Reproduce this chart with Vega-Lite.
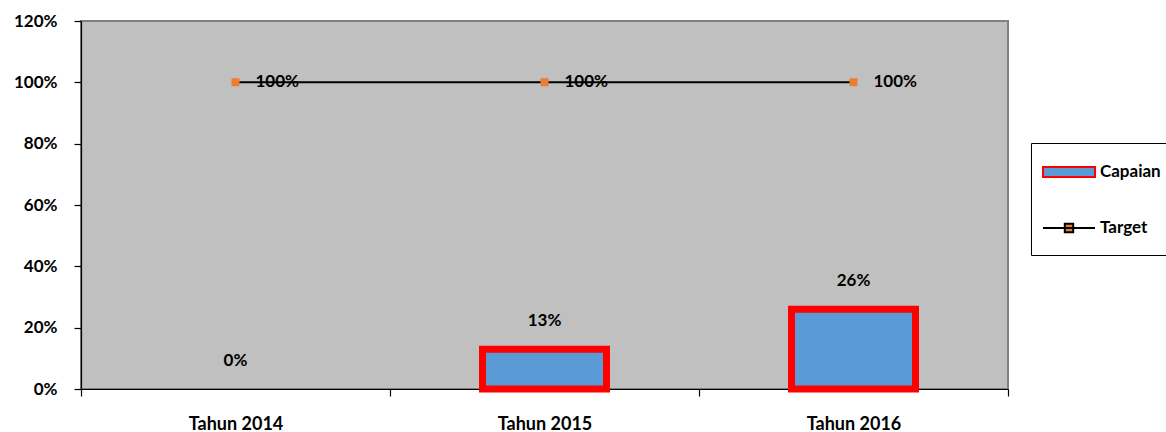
{
  "$schema": "https://vega.github.io/schema/vega-lite/v6.json",
  "width": 927,
  "height": 368,
  "autosize": {"type": "none"},
  "padding": {"left": 81, "top": 21, "right": 158, "bottom": 43},
  "background": "white",
  "config": {
    "view": {"fill": "#C0C0C0", "stroke": "#808080", "strokeWidth": 2},
    "font": "Lato",
    "axis": {"labelFont": "Lato", "labelFontWeight": "bold", "labelColor": "black", "domainColor": "black", "tickColor": "black", "domainWidth": 1.2, "tickWidth": 1.2, "tickSize": 7, "grid": false, "title": null}
  },
  "datasets": {
    "capaian": [
      {"tahun": "Tahun 2014", "value": 0, "series": "Capaian"},
      {"tahun": "Tahun 2015", "value": 0.13, "series": "Capaian"},
      {"tahun": "Tahun 2016", "value": 0.26, "series": "Capaian"}
    ],
    "target": [
      {"tahun": "Tahun 2014", "value": 1.0, "series": "Target"},
      {"tahun": "Tahun 2015", "value": 1.0, "series": "Target"},
      {"tahun": "Tahun 2016", "value": 1.0, "series": "Target"}
    ]
  },
  "encoding": {
    "x": {"field": "tahun", "type": "nominal", "sort": ["Tahun 2014", "Tahun 2015", "Tahun 2016"],
      "scale": {"domain": ["Tahun 2014", "Tahun 2015", "Tahun 2016"], "paddingInner": 0, "paddingOuter": 0},
      "axis": {"labelAngle": 0, "tickBand": "extent", "labelFontSize": 18, "labelPadding": 19, "labelBaseline": "top"}},
    "y": {"field": "value", "type": "quantitative",
      "scale": {"domain": [0, 1.2], "nice": false, "zero": true},
      "axis": {"values": [0, 0.2, 0.4, 0.6, 0.8, 1.0, 1.2], "format": ".0%", "labelFontSize": 17, "labelPadding": 17}}
  },
  "layer": [
    {
      "data": {"name": "capaian"},
      "transform": [{"filter": "datum.value > 0"}],
      "mark": {"type": "bar", "size": 124, "strokeWidth": 7},
      "encoding": {
        "fill": {"field": "series", "type": "nominal",
          "scale": {"domain": ["Capaian", "Target"], "range": ["#5B9BD5", "#ED7D31"]},
          "legend": {"title": null, "orient": "none", "legendX": 950, "legendY": 122, "strokeColor": "black", "fillColor": "white", "padding": 18, "symbolSize": 400, "symbolStrokeWidth": 2, "symbolOffset": 9, "labelFont": "Lato", "labelFontWeight": "bold", "labelFontSize": 17, "labelColor": "black", "rowPadding": 36, "labelOffset": 20}},
        "stroke": {"field": "series", "type": "nominal",
          "scale": {"domain": ["Capaian", "Target"], "range": ["#FF0000", "#000000"]}}
      }
    },
    {
      "data": {"name": "capaian"},
      "mark": {"type": "text", "dy": -28, "font": "Lato", "fontWeight": "bold", "fontSize": 17, "color": "black"},
      "encoding": {"text": {"field": "value", "type": "quantitative", "format": ".0%"}}
    },
    {
      "data": {"name": "target"},
      "mark": {"type": "line", "strokeWidth": 2},
      "encoding": {
        "stroke": {"field": "series", "type": "nominal"}
      }
    },
    {
      "data": {"name": "target"},
      "mark": {"type": "point", "filled": true, "size": 361, "strokeWidth": 0, "opacity": 1},
      "encoding": {
        "fill": {"field": "series", "type": "nominal"},
        "shape": {"field": "series", "type": "nominal",
          "scale": {"domain": ["Capaian", "Target"], "range": ["M-2.6,-0.5H2.6V0.5H-2.6Z", "M-2.6,0H2.6M-0.42,-0.42H0.42V0.42H-0.42Z"]}}
      }
    },
    {
      "data": {"name": "target"},
      "mark": {"type": "text", "align": "left", "dx": 20, "baseline": "middle", "font": "Lato", "fontWeight": "bold", "fontSize": 17, "color": "black"},
      "encoding": {"text": {"field": "value", "type": "quantitative", "format": ".0%"}}
    }
  ]
}
